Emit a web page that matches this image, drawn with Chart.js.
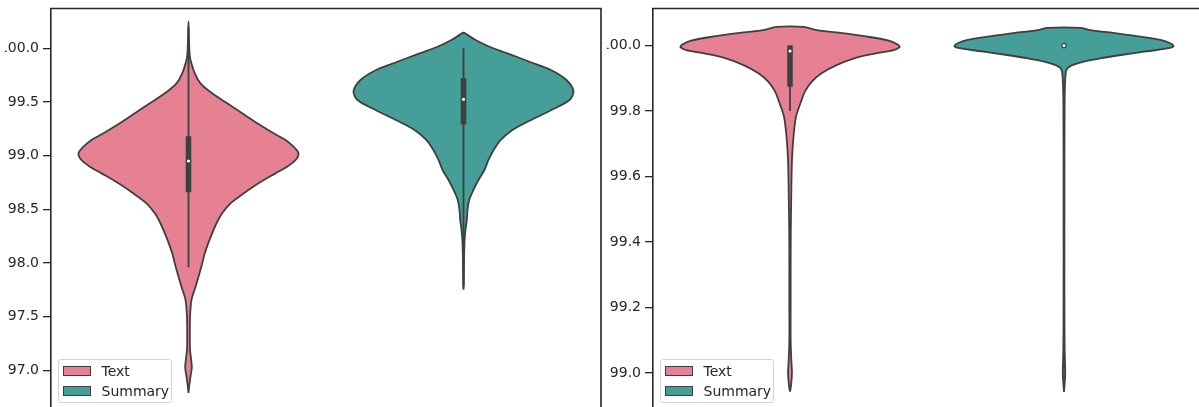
<!DOCTYPE html>
<html>
<head>
<meta charset="utf-8">
<script src="https://cdn.jsdelivr.net/npm/chart.js@4.4.1/dist/chart.umd.min.js"></script>
<style>
  html, body { margin: 0; padding: 0; background: #fff; }
  body { width: 1199px; height: 407px; overflow: hidden; position: relative; font-family: "DejaVu Sans", sans-serif; }
  .panel { position: absolute; top: 0; height: 407px; overflow: hidden; }
  .panel canvas { position: absolute; top: 0; }
  .legend { position: absolute; top: 359px; width: 108px; padding: 1px 0 1px 4px; border: 1px solid #d4d4d4; border-radius: 3px; background: rgba(255,255,255,0.85); }
  .legend .row { height: 20px; display: flex; align-items: center; font-size: 14px; color: #262626; }
  .legend .swatch { width: 26px; height: 8px; border: 1px solid #3f3f3f; margin-right: 10.5px; }
</style>
</head>
<body>
<div class="panel" style="left:5px;width:598px"><canvas id="leftChart" width="602" height="407" style="left:-4px"></canvas></div>
<div class="panel" style="left:607px;width:592px"><canvas id="rightChart" width="600" height="407" style="left:-4px"></canvas></div>
<div class="legend" id="leftLegend" style="left:58px"></div>
<div class="legend" id="rightLegend" style="left:660px"></div>
<script>
const categories = ['Text', 'Summary'];
const leftTicks = [97.0, 97.5, 98.0, 98.5, 99.0, 99.5, 100.0];
const rightTicks = [99.0, 99.2, 99.4, 99.6, 99.8, 100.0];

// violin outlines: values top to bottom, width relative to the widest point
const leftTextY = [100.25, 100.10, 99.98, 99.93, 99.891, 99.767, 99.674, 99.581, 99.488, 99.394, 99.301, 99.208, 99.146, 99.083, 99.022, 98.959, 98.897, 98.835, 98.742, 98.649, 98.556, 98.463, 98.370, 98.276, 98.183, 98.090, 97.997, 97.904, 97.779, 97.655, 97.50, 97.34, 97.19, 97.03, 96.94, 96.85, 96.79];
const leftTextWidth = [0, 0.004, 0.008, 0.012, 0.018, 0.057, 0.109, 0.215, 0.352, 0.488, 0.625, 0.773, 0.882, 0.955, 1.0, 0.973, 0.897, 0.791, 0.636, 0.503, 0.382, 0.306, 0.255, 0.215, 0.179, 0.148, 0.125, 0.10, 0.064, 0.027, 0.014, 0.012, 0.014, 0.03, 0.018, 0.006, 0];
const leftSummaryY = [100.145, 100.13, 100.08, 100.015, 99.953, 99.875, 99.80, 99.705, 99.60, 99.518, 99.425, 99.33, 99.24, 99.145, 99.05, 98.96, 98.866, 98.773, 98.68, 98.587, 98.49, 98.40, 98.306, 98.213, 98.03, 97.80, 97.75];
const leftSummaryWidth = [0, 0.03, 0.106, 0.236, 0.40, 0.60, 0.79, 0.936, 1.0, 0.964, 0.80, 0.61, 0.445, 0.336, 0.273, 0.227, 0.19, 0.136, 0.09, 0.052, 0.036, 0.03, 0.018, 0.01, 0.005, 0.003, 0];
const rightTextY = [100.057, 100.047, 100.040, 100.026, 100.014, 100.002, 99.995, 99.986, 99.978, 99.963, 99.940, 99.915, 99.889, 99.859, 99.828, 99.783, 99.732, 99.681, 99.630, 99.528, 99.427, 99.325, 99.223, 99.10, 99.04, 98.999, 98.958, 98.943];
const rightTextWidth = [0.121, 0.243, 0.424, 0.727, 0.909, 0.985, 1.0, 0.945, 0.818, 0.606, 0.424, 0.288, 0.197, 0.136, 0.10, 0.055, 0.035, 0.023, 0.016, 0.011, 0.007, 0.006, 0.006, 0.006, 0.012, 0.018, 0.008, 0];
const rightSummaryY = [100.054, 100.047, 100.037, 100.027, 100.017, 100.007, 99.998, 99.991, 99.981, 99.971, 99.961, 99.951, 99.940, 99.930, 99.915, 99.834, 99.528, 99.223, 99.07, 99.0, 98.963, 98.942];
const rightSummaryWidth = [0.148, 0.243, 0.48, 0.70, 0.88, 0.97, 1.0, 0.94, 0.73, 0.52, 0.33, 0.18, 0.076, 0.03, 0.015, 0.006, 0.004, 0.004, 0.006, 0.011, 0.005, 0];

// inner box: [lower whisker, q1, median, q3, upper whisker]
const leftTextBox = [97.96, 98.66, 98.95, 99.18, 100.2];
const leftSummaryBox = [97.78, 99.29, 99.525, 99.72, 100.0];
const rightTextBox = [99.80, 99.874, 99.983, 100.0, 100.0];
const rightSummaryBox = [100.0, 100.0, 100.0, 100.0, 100.0];

const fills = ['#e68193', '#459e97'];
const outline = '#3f3f3f';
const ink = '#262626';
const halfWidth = 0.4;

const frame = {
    id: 'frame',
    afterDraw(chart) {
        const { ctx, chartArea: a } = chart;
        ctx.save();
        ctx.strokeStyle = ink;
        ctx.lineWidth = 1.6;
        ctx.beginPath();
        ctx.moveTo(a.left - 0.8, a.top);
        ctx.lineTo(a.right, a.top);
        ctx.lineTo(a.right, a.bottom + 2);
        ctx.stroke();
        ctx.restore();
    },
};

const violinPoints = (center, ys, widths) => {
    const right = ys.map((y, k) => ({ x: center + widths[k] * halfWidth, y })).reverse();
    const left = ys.map((y, k) => ({ x: center - widths[k] * halfWidth, y }));
    if (widths[0] === 0) left.shift();
    return right.concat(left);
};

const buildPanel = (canvasId, ys, widths, boxes, range, ticks) => {
    const datasets = [];
    categories.forEach((name, i) => {
        const [lo, q1, med, q3, hi] = boxes[i];
        datasets.push({
            data: violinPoints(i, ys[i], widths[i]),
            borderColor: outline,
            borderWidth: 1.8,
            backgroundColor: fills[i],
            fill: 'shape',
            tension: 0.3,
            pointRadius: 0,
            order: 3,
        });
        datasets.push({
            data: [{ x: i, y: lo }, { x: i, y: hi }],
            borderColor: outline,
            borderWidth: 1.8,
            pointRadius: 0,
            order: 2,
        });
        datasets.push({
            data: [{ x: i, y: q1 }, { x: i, y: q3 }],
            borderColor: outline,
            borderWidth: 5.5,
            pointRadius: 0,
            order: 1,
        });
        datasets.push({
            data: [{ x: i, y: med }],
            showLine: false,
            pointRadius: 2.2,
            pointBorderWidth: 1.2,
            pointBackgroundColor: '#ffffff',
            pointBorderColor: outline,
            order: 0,
        });
    });

    new Chart(document.getElementById(canvasId), {
        type: 'line',
        data: { datasets },
        options: {
            responsive: false,
            animation: false,
            events: [],
            layout: { autoPadding: false, padding: { top: 8.5, right: 2, bottom: 0, left: 0 } },
            plugins: { legend: { display: false }, tooltip: { enabled: false } },
            scales: {
                x: { type: 'linear', min: -0.5, max: 1.5, display: false },
                y: {
                    type: 'linear',
                    min: range[0],
                    max: range[1],
                    afterBuildTicks: (s) => { s.ticks = ticks.map((v) => ({ value: v })); },
                    afterFit: (s) => { s.width = 50; s.paddingTop = 0; s.paddingBottom = 0; },
                    ticks: {
                        color: ink,
                        padding: 4,
                        font: { family: 'DejaVu Sans', size: 14 },
                        callback: (v) => Number(v).toFixed(1),
                    },
                    grid: { drawOnChartArea: false, drawTicks: true, tickLength: 8, color: ink, lineWidth: 1.3 },
                    border: { display: true, color: ink, width: 1.6 },
                },
            },
        },
        plugins: [frame],
    });
};

const buildLegend = (id) => {
    const el = document.getElementById(id);
    categories.forEach((name, i) => {
        const row = document.createElement('div');
        row.className = 'row';
        const sw = document.createElement('span');
        sw.className = 'swatch';
        sw.style.background = fills[i];
        row.appendChild(sw);
        row.appendChild(document.createTextNode(name));
        el.appendChild(row);
    });
};

buildPanel('leftChart', [leftTextY, leftSummaryY], [leftTextWidth, leftSummaryWidth],
    [leftTextBox, leftSummaryBox], [96.658, 100.371], leftTicks);
buildPanel('rightChart', [rightTextY, rightSummaryY], [rightTextWidth, rightSummaryWidth],
    [rightTextBox, rightSummaryBox], [98.896, 100.113], rightTicks);
buildLegend('leftLegend');
buildLegend('rightLegend');
</script>
</body>
</html>
